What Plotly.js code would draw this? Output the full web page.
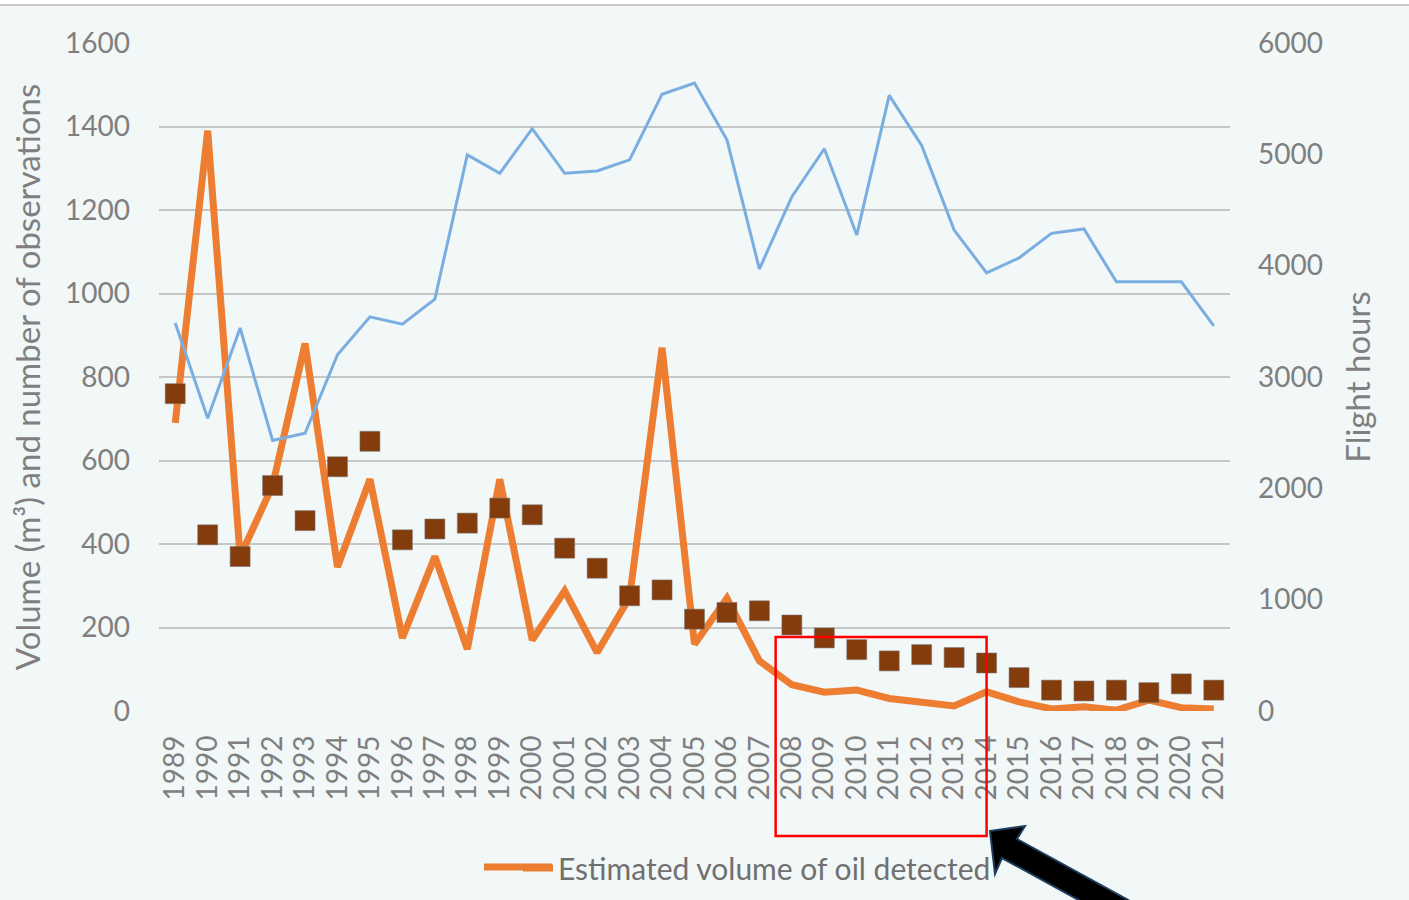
<!DOCTYPE html>
<html>
<head>
<meta charset="utf-8">
<script src="https://cdn.plot.ly/plotly-3.0.1.min.js"></script>
<style>
  html, body { margin: 0; padding: 0; background: #f2f7f7; }
  #chart { width: 1409px; height: 900px; }
</style>
</head>
<body>
<div id="chart"></div>
<script>
const years = ["1989","1990","1991","1992","1993","1994","1995","1996","1997","1998","1999","2000","2001","2002","2003","2004","2005","2006","2007","2008","2009","2010","2011","2012","2013","2014","2015","2016","2017","2018","2019","2020","2021"];

const oilVolume = [690, 1390, 370, 540, 880, 345, 555, 175, 370, 148, 555, 170, 288, 140, 272, 870, 160, 270, 120, 63, 45, 50, 30, 20, 12, 46, 22, 5, 10, 2, 26, 8, 5];

const observations = [760, 422, 370, 540, 456, 585, 646, 410, 436, 450, 486, 470, 390, 342, 276, 290, 220, 236, 240, 206, 175, 147, 120, 135, 128, 115, 80, 50, 48, 50, 44, 65, 50];

const flightHours = [3485, 2630, 3440, 2430, 2495, 3200, 3540, 3475, 3700, 4995, 4830, 5230, 4830, 4850, 4950, 5540, 5640, 5130, 3970, 4620, 5050, 4275, 5530, 5080, 4320, 3935, 4070, 4290, 4330, 3855, 3855, 3855, 3460];

const leftTicks = [0, 200, 400, 600, 800, 1000, 1200, 1400, 1600];
const rightTicks = [0, 1000, 2000, 3000, 4000, 5000, 6000];

const FONT = "Lato, 'Open Sans', sans-serif";
const GREY = "#7f7f7f";
const ORANGE = "#ed7d31";

// pixel -> paper helpers (plot area: x 159..1230, y 43..711)
const PL = 159, PR = 1230, PT = 43, PB = 711;
const px = x => (x - PL) / (PR - PL);
const py = y => (PB - y) / (PB - PT);

const traces = [
  {
    x: years, y: oilVolume, type: "scatter", mode: "lines",
    name: "Estimated volume of oil detected",
    line: { color: ORANGE, width: 7 },
    yaxis: "y", showlegend: true
  },
  {
    x: years, y: observations, type: "scatter", mode: "markers",
    name: "Number of observations",
    marker: { symbol: "square", size: 20, color: "#843c0c",
              line: { color: "rgba(120,120,120,0.55)", width: 1 } },
    yaxis: "y", showlegend: false
  },
  {
    x: years, y: flightHours, type: "scatter", mode: "lines",
    name: "Flight hours",
    line: { color: "#7aaee0", width: 3 },
    yaxis: "y2", showlegend: false
  }
];

// arrow polygon (pixel points)
const arrowPts = [[990,831],[1025,826],[1017,839],[1192,935],[1177,954],[1002,858],[995,874]];
const arrowPath = "M " + arrowPts.map(p => px(p[0]).toFixed(5) + "," + py(p[1]).toFixed(5)).join(" L ") + " Z";

const layout = {
  width: 1409, height: 900,
  paper_bgcolor: "#f2f7f7",
  plot_bgcolor: "#f2f7f7",
  margin: { l: PL, r: 1409 - PR, t: PT, b: 900 - PB, autoexpand: false },
  font: { family: FONT, color: GREY, size: 27 },
  showlegend: true,
  legend: {
    x: px(757), y: py(868), xanchor: "center", yanchor: "middle",
    orientation: "h", bgcolor: "rgba(0,0,0,0)",
    font: { family: FONT, size: 30, color: "#707070" }
  },
  xaxis: {
    type: "category",
    range: [-0.5, years.length - 0.5],
    tickvals: years, ticktext: years,
    tickangle: -90,
    tickfont: { family: FONT, size: 28, color: GREY },
    ticklabelstandoff: 18,
    showgrid: false, zeroline: false, showline: false, ticks: ""
  },
  yaxis: {
    range: [0, 1600],
    tickvals: leftTicks,
    tickfont: { family: FONT, size: 28, color: GREY },
    ticklabelstandoff: 28,
    showgrid: true, gridcolor: "#c6c6c6", gridwidth: 2,
    zeroline: false, showline: false, ticks: "",
    title: { text: "Volume (m³) and number of observations",
             font: { family: FONT, size: 33, color: GREY }, standoff: 14 }
  },
  yaxis2: {
    range: [0, 6000],
    overlaying: "y", side: "right",
    tickvals: rightTicks,
    tickfont: { family: FONT, size: 28, color: GREY },
    ticklabelstandoff: 27,
    showgrid: false, zeroline: false, showline: false, ticks: "",
    title: { text: "Flight hours",
             font: { family: FONT, size: 33, color: GREY }, standoff: 24 }
  },
  shapes: [
    { type: "rect", xref: "paper", yref: "paper", x0: px(0), x1: px(1409), y0: py(4), y1: py(0),
      fillcolor: "#ffffff", line: { width: 0 }, layer: "below" },
    { type: "line", xref: "paper", yref: "paper", x0: px(0), x1: px(1409), y0: py(5), y1: py(5),
      line: { color: "#c8c8c8", width: 2 } },
    { type: "rect", xref: "x", yref: "paper", x0: 18.5, x1: 25, y0: py(836), y1: py(637),
      line: { color: "#ff0000", width: 2.5 }, fillcolor: "rgba(0,0,0,0)" },
    { type: "path", xref: "paper", yref: "paper", path: arrowPath,
      fillcolor: "#000000", line: { color: "#1d3d5c", width: 2 } },
    // longer legend line sample, as in the reference
    { type: "line", xref: "paper", yref: "paper", x0: px(484), x1: px(552), y0: py(867), y1: py(867),
      line: { color: ORANGE, width: 7 } }
  ]
};

Plotly.newPlot("chart", traces, layout, { displayModeBar: false, staticPlot: true });
</script>
</body>
</html>
